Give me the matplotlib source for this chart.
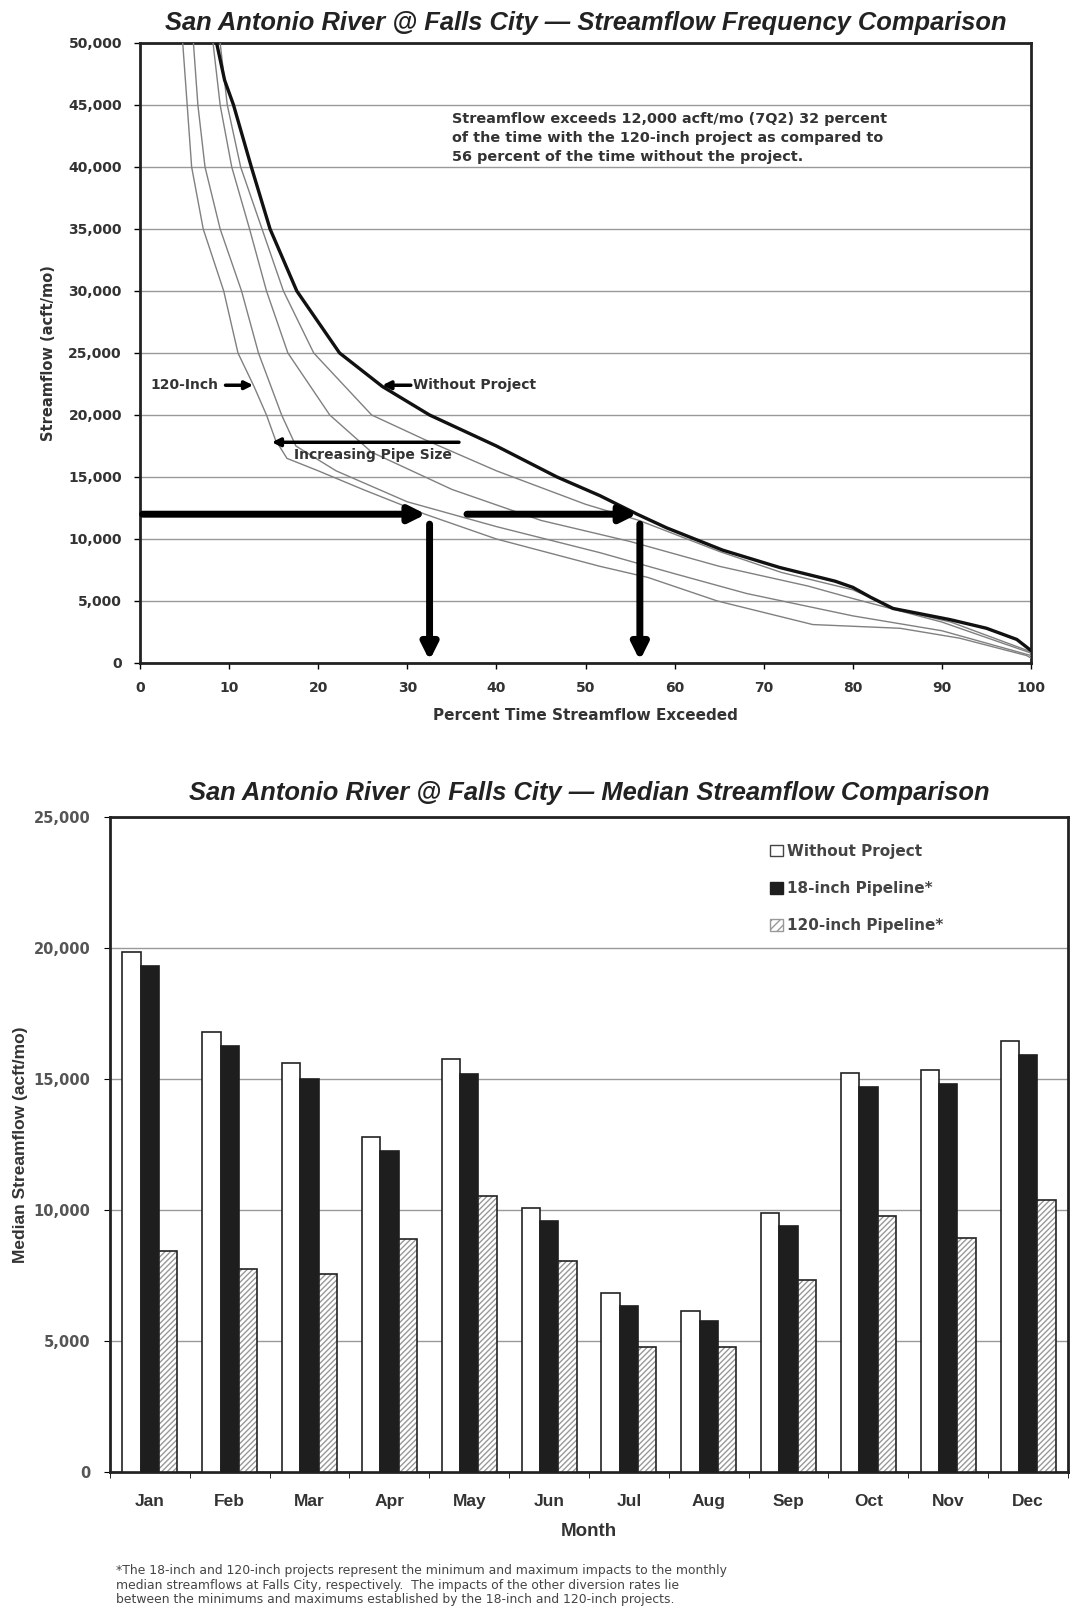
import numpy as np
import matplotlib
matplotlib.use("Agg")
import matplotlib.pyplot as plt
from matplotlib.patches import Patch

plt.rcParams["font.family"] = ["Liberation Sans", "DejaVu Sans"]

# --- frequency curves: percent of time exceeded vs streamflow (acft/mo) ---
without_pct = [8.0, 8.6, 9.5, 10.5, 12.5, 14.6, 17.6, 22.4, 27.2, 32.5, 40.0, 46.8,
               51.6, 55.8, 59.1, 65.4, 71.8, 78.0, 80.0, 82.0, 84.5, 90.9, 95.0, 98.4, 100.0]
without_flow = [55000, 50000, 47000, 45000, 40000, 35000, 30000, 25000, 22300, 20000, 17500, 15000,
                13500, 12000, 10900, 9100, 7700, 6600, 6100, 5300, 4400, 3500, 2800, 1900, 1000]

pipe_a_pct = [8.3, 9.0, 9.8, 11.3, 13.7, 16.1, 19.5, 26.0, 32.0, 40.0, 50.0, 56.0,
              65.0, 72.0, 80.0, 85.0, 91.0, 100.0]
pipe_a_flow = [55000, 50000, 45000, 40000, 35000, 30000, 25000, 20000, 18000, 15500, 12800, 11500,
               9000, 7300, 5900, 4300, 3300, 900]

pipe_b_pct = [7.5, 8.2, 9.0, 10.3, 12.3, 14.2, 16.6, 21.3, 26.0, 35.0, 45.0, 55.0,
              65.0, 75.0, 80.0, 90.0, 100.0]
pipe_b_flow = [55000, 50000, 45000, 40000, 35000, 30000, 25000, 20000, 17000, 14000, 11500, 9800,
               7800, 6200, 5200, 3300, 800]

pipe_c_pct = [5.5, 6.0, 6.5, 7.3, 9.0, 11.4, 13.3, 15.9, 17.5, 22.0, 30.0, 40.0, 51.6,
              60.0, 68.1, 80.0, 90.0, 100.0]
pipe_c_flow = [55000, 50000, 45000, 40000, 35000, 30000, 25000, 20000, 17500, 15500, 13000, 11000, 8900,
               7200, 5600, 3800, 2600, 600]

pipe_120_pct = [4.5, 4.8, 5.3, 5.8, 7.1, 9.4, 11.0, 12.8, 14.2, 15.2, 16.5, 20.0, 25.0, 32.0,
                40.0, 51.6, 57.0, 64.8, 75.5, 85.3, 92.0, 99.5, 100.0]
pipe_120_flow = [55000, 50000, 45000, 40000, 35000, 30000, 25000, 22300, 20000, 18000, 16500, 15500,
                 14000, 12000, 10000, 7800, 6900, 5000, 3100, 2800, 2000, 600, 400]

# --- monthly medians (acft/mo) ---
months = ["Jan", "Feb", "Mar", "Apr", "May", "Jun", "Jul", "Aug", "Sep", "Oct", "Nov", "Dec"]
without_project = [19850, 16800, 15600, 12780, 15760, 10080, 6830, 6160, 9880, 15250, 15340, 16460]
pipeline_18 = [19300, 16280, 15020, 12250, 15200, 9580, 6320, 5760, 9400, 14710, 14800, 15920]
pipeline_120 = [8420, 7760, 7550, 8890, 10520, 8040, 4760, 4760, 7340, 9790, 8950, 10400]

fig = plt.figure(figsize=(10.7, 16.1), dpi=100)
fig.patch.set_facecolor("white")

WIDE = ["DejaVu Sans"]
tick_font = dict(fontsize=10, fontweight="bold", color="#333333", family=WIDE)


def thousands(v, pos=None):
    return f"{int(v):,}"


# ================= top: frequency comparison =================
ax1 = fig.add_axes([0.1308, 0.5882, 0.8328, 0.3851])
for pct, flow in [(pipe_120_pct, pipe_120_flow), (pipe_c_pct, pipe_c_flow),
                  (pipe_b_pct, pipe_b_flow), (pipe_a_pct, pipe_a_flow)]:
    ax1.plot(pct, flow, color="#808080", lw=1.0, zorder=3)
ax1.plot(without_pct, without_flow, color="#111111", lw=2.4, zorder=4)

ax1.set_xlim(0, 100)
ax1.set_ylim(0, 50000)
ax1.set_xticks(np.arange(0, 101, 10))
ax1.set_yticks(np.arange(0, 50001, 5000))
ax1.yaxis.set_major_formatter(plt.FuncFormatter(thousands))
ax1.grid(axis="y", color="#999999", lw=1.0)
ax1.set_axisbelow(True)
for s in ax1.spines.values():
    s.set_linewidth(2.0)
    s.set_color("#222222")
ax1.tick_params(direction="out", length=4, width=1, pad=9)
for lab in ax1.get_xticklabels() + ax1.get_yticklabels():
    lab.set(**tick_font)
ax1.set_xlabel("Percent Time Streamflow Exceeded", fontsize=11, fontweight="bold",
               color="#333333", labelpad=9, family=WIDE)
ax1.set_ylabel("Streamflow (acft/mo)", fontsize=10.5, fontweight="bold",
               color="#333333", labelpad=9, family=WIDE)
ax1.set_title("San Antonio River @ Falls City \u2014 Streamflow Frequency Comparison",
              fontsize=18.4, fontweight="bold", style="italic", color="#222222", pad=9)

big = dict(arrowstyle="-|>", color="black", lw=5, mutation_scale=24, shrinkA=0, shrinkB=0)
small = dict(arrowstyle="-|>", color="black", lw=2.5, mutation_scale=12, shrinkA=0, shrinkB=0)
ax1.annotate("", xy=(32.1, 12000), xytext=(0.3, 12000), arrowprops=big, zorder=6)
ax1.annotate("", xy=(55.8, 12000), xytext=(36.7, 12000), arrowprops=big, zorder=6)
ax1.annotate("", xy=(32.5, 200), xytext=(32.5, 11200), arrowprops=big, zorder=6)
ax1.annotate("", xy=(56.1, 200), xytext=(56.1, 11200), arrowprops=big, zorder=6)
ax1.annotate("", xy=(14.8, 17800), xytext=(35.8, 17800), arrowprops=small, zorder=6)
note_font = dict(fontsize=10, fontweight="bold", color="#333333", family=WIDE)
ax1.text(26.2, 17300, "Increasing Pipe Size", ha="center", va="top", **note_font)
ax1.annotate("", xy=(12.7, 22400), xytext=(9.6, 22400), arrowprops=small, zorder=6)
ax1.text(1.2, 22400, "120-Inch", ha="left", va="center", **note_font)
ax1.annotate("", xy=(27.2, 22400), xytext=(30.4, 22400), arrowprops=small, zorder=6)
ax1.text(30.6, 22400, "Without Project", ha="left", va="center", **note_font)
ax1.text(35.0, 44400,
         "Streamflow exceeds 12,000 acft/mo (7Q2) 32 percent\n"
         "of the time with the 120-inch project as compared to\n"
         "56 percent of the time without the project.",
         ha="left", va="top", linespacing=1.45,
         fontsize=10.4, fontweight="bold", color="#333333", family=WIDE)

# ================= bottom: median comparison =================
ax2 = fig.add_axes([0.1028, 0.0857, 0.8953, 0.4068])
x = np.arange(len(months))
w = 0.23
ax2.bar(x - w, without_project, w, color="white", edgecolor="#222222", lw=1.2, zorder=3)
ax2.bar(x, pipeline_18, w, color="#1e1e1e", edgecolor="#1e1e1e", lw=1.2, zorder=3)
ax2.bar(x + w, pipeline_120, w, color="white", edgecolor="#999999", lw=0, hatch="//////", zorder=3)
ax2.bar(x + w, pipeline_120, w, fill=False, edgecolor="#222222", lw=1.2, zorder=4)

ax2.set_xlim(-0.5, len(months) - 0.5)
ax2.set_ylim(0, 25000)
ax2.set_yticks(np.arange(0, 25001, 5000))
ax2.yaxis.set_major_formatter(plt.FuncFormatter(thousands))
ax2.set_xticks(x)
ax2.set_xticklabels(months)
ax2.set_xticks(np.arange(-0.5, len(months), 1.0), minor=True)
ax2.tick_params(axis="x", which="major", length=0, pad=16)
ax2.tick_params(axis="x", which="minor", direction="out", length=4)
ax2.tick_params(axis="y", direction="out", length=4, pad=10)
ax2.grid(axis="y", color="#999999", lw=1.0)
ax2.set_axisbelow(True)
for s in ax2.spines.values():
    s.set_linewidth(2.0)
    s.set_color("#222222")
for lab in ax2.get_xticklabels():
    lab.set(fontsize=12.5, fontweight="bold", color="#333333")
for lab in ax2.get_yticklabels():
    lab.set(fontsize=10.5, fontweight="bold", color="#555555", family=WIDE)
ax2.set_xlabel("Month", fontsize=13.5, fontweight="bold", color="#333333", labelpad=10)
ax2.set_ylabel("Median Streamflow (acft/mo)", fontsize=12.5, fontweight="bold",
               color="#333333", labelpad=4)
ax2.set_title("San Antonio River @ Falls City \u2014 Median Streamflow Comparison",
              fontsize=18.4, fontweight="bold", style="italic", color="#222222", pad=12)

handles = [Patch(facecolor="white", edgecolor="#444444", lw=1),
           Patch(facecolor="#1e1e1e", edgecolor="#1e1e1e", lw=1),
           Patch(facecolor="white", edgecolor="#999999", hatch="////", lw=1)]
ax2.legend(handles, ["Without Project", "18-inch Pipeline*", "120-inch Pipeline*"],
           loc="upper left", bbox_to_anchor=(0.675, 0.98), frameon=False,
           prop=dict(size=11, weight="bold", family=WIDE), labelcolor="#444444",
           handlelength=0.8, handleheight=0.8, handletextpad=0.3, labelspacing=1.45)

fig.text(0.108, 0.0155,
         "*The 18-inch and 120-inch projects represent the minimum and maximum impacts to the monthly\n"
         "median streamflows at Falls City, respectively.  The impacts of the other diversion rates lie\n"
         "between the minimums and maximums established by the 18-inch and 120-inch projects.",
         fontsize=8.9, color="#444444", ha="left", va="center", linespacing=1.15, family=WIDE)

fig.savefig("out.png", dpi=100, facecolor="white")
